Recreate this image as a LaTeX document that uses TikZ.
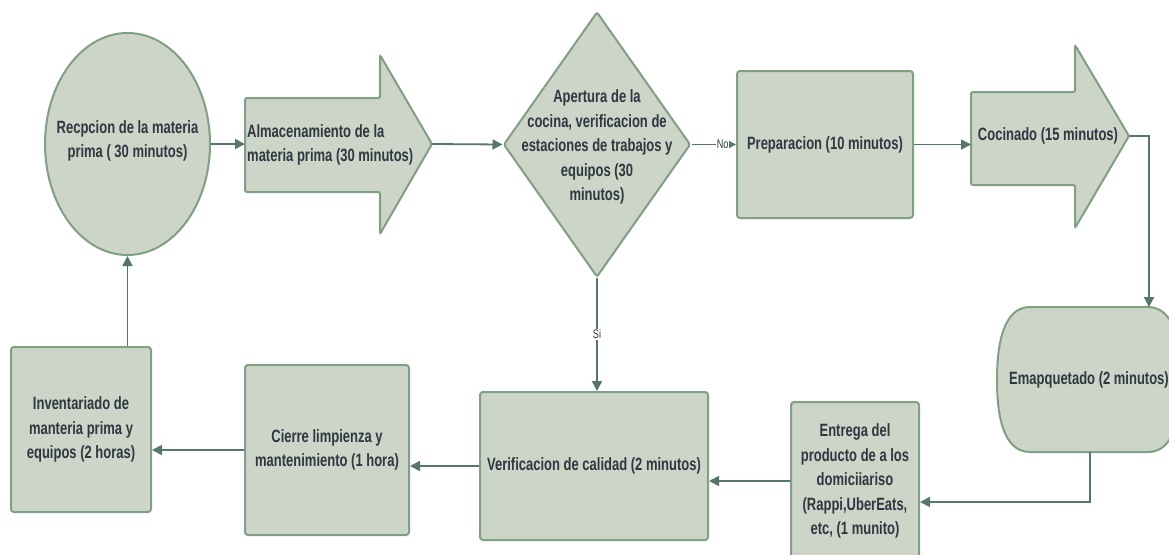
\documentclass[tikz,border=0pt]{standalone}
\usepackage{fontspec}
\setmainfont{Liberation Sans}[FakeStretch=0.73]
\usetikzlibrary{shapes.geometric,arrows.meta}
\definecolor{fillc}{RGB}{204,213,200}
\definecolor{bordc}{RGB}{127,160,130}
\definecolor{linec}{RGB}{86,118,108}
\definecolor{textc}{RGB}{48,55,64}
\begin{document}
\begin{tikzpicture}[x=1pt,y=-1pt,
  shp/.style={draw=bordc, fill=fillc, line width=2pt},
  box/.style={shp, rounded corners=3pt, inner sep=0pt, text=textc,
    font=\fontsize{17.8}{24.5}\selectfont\bfseries, align=center},
  lbl/.style={text=textc, font=\fontsize{17.8}{24.5}\selectfont\bfseries, align=center, inner sep=0pt},
  conn/.style={draw=linec, line width=1.8pt, -{Triangle[length=10pt,width=10pt]}},
  small/.style={text=textc, font=\fontsize{12.5}{14}\selectfont, fill=white, inner sep=1pt}]
\useasboundingbox (0,0) rectangle (1169,554);
\fill[white] (0,0) rectangle (1169,554);
\clip (0,0) rectangle (1169,554);

% Recepcion (circle)
\node[shp, ellipse, minimum width=165pt, minimum height=222pt, inner sep=0pt] (rec) at (127.5,144) {};
\node[lbl] (rectxt) at (127.5,141) {Recpcion de la materia\\prima ( 30 minutos)};

% Almacenamiento (block arrow)
\draw[shp, rounded corners=2pt] (245,98) -- (380,98) -- (380,55) -- (432,144) -- (380,234) -- (380,192) -- (245,192) -- cycle;
\coordinate (almW) at (245,144);
\coordinate (almT) at (432,144);
\node[lbl, anchor=west, align=left] (almtxt) at (247,145) {Almacenamiento de la\\materia prima (30 minutos)};

% Apertura (diamond)
\node[shp, diamond, minimum width=187pt, minimum height=265pt, inner sep=0pt, rounded corners=2pt] (dia) at (597,144.5) {};
\node[lbl] (diatxt) at (597,147) {Apertura de la\\cocina, verificacion de\\estaciones de trabajos y\\equipos (30\\minutos)};

% Preparacion
\node[box, minimum width=176pt, minimum height=147pt] (prep) at (825,144.5) {Preparacion (10 minutos)};

% Cocinado (block arrow)
\draw[shp, rounded corners=2pt] (971,92) -- (1075,92) -- (1075,45) -- (1129,136) -- (1075,228) -- (1075,185) -- (971,185) -- cycle;
\coordinate (cocW) at (971,144.5);
\coordinate (cocT) at (1129,136);
\node[lbl] (coctxt) at (1048,136) {Cocinado (15 minutos)};

% Emapquetado
\draw[shp] (1030,307) -- (1148,307)
  .. controls (1175,307) and (1181,345) .. (1181,380)
  .. controls (1181,415) and (1175,452) .. (1148,452)
  -- (1030,452)
  .. controls (1003,452) and (997,415) .. (997,380)
  .. controls (997,345) and (1003,307) .. (1030,307) -- cycle;
\coordinate (empN) at (1149,307);
\coordinate (empS) at (1090,452);
\node[lbl] (emptxt) at (1089,380) {Emapquetado (2 minutos)};

% Entrega
\node[box, minimum width=128pt, minimum height=158pt] (ent) at (855,481) {Entrega del\\producto de a los\\domiciiariso\\(Rappi,UberEats,\\etc, (1 munito)};

% Verificacion de calidad
\node[box, minimum width=228pt, minimum height=148pt] (ver) at (594,466) {Verificacion de calidad (2 minutos)};

% Cierre
\node[box, minimum width=164pt, minimum height=170pt] (cie) at (327,450) {Cierre limpienza y\\mantenimiento (1 hora)};

% Inventariado
\node[box, minimum width=140pt, minimum height=165pt] (inv) at (81,429.5) {Inventariado de\\manteria prima y\\equipos (2 horas)};

% Connectors
\draw[conn] (rec.east) -- (almW);
\draw[conn] (almT) -- (dia.west);
\draw[conn] (dia.east) -- (prep.west) node[small, pos=0.7] {No};
\draw[conn] (prep.east) -- (cocW);
\draw[conn] (cocT) -| (empN);
\draw[conn] (empS) |- ([yshift=-21pt]ent.east);
\draw[conn] (ent.west) -- (ent.west -| ver.east);
\draw[conn] (ver.west) -- (ver.west -| cie.east);
\draw[conn] (cie.west) -- (cie.west -| inv.east);
\draw[conn] (inv.north -| rec.south) -- (rec.south);
\draw[conn] (dia.south) -- (dia.south |- ver.north) node[small, pos=0.5] {Si};
\end{tikzpicture}
\end{document}
